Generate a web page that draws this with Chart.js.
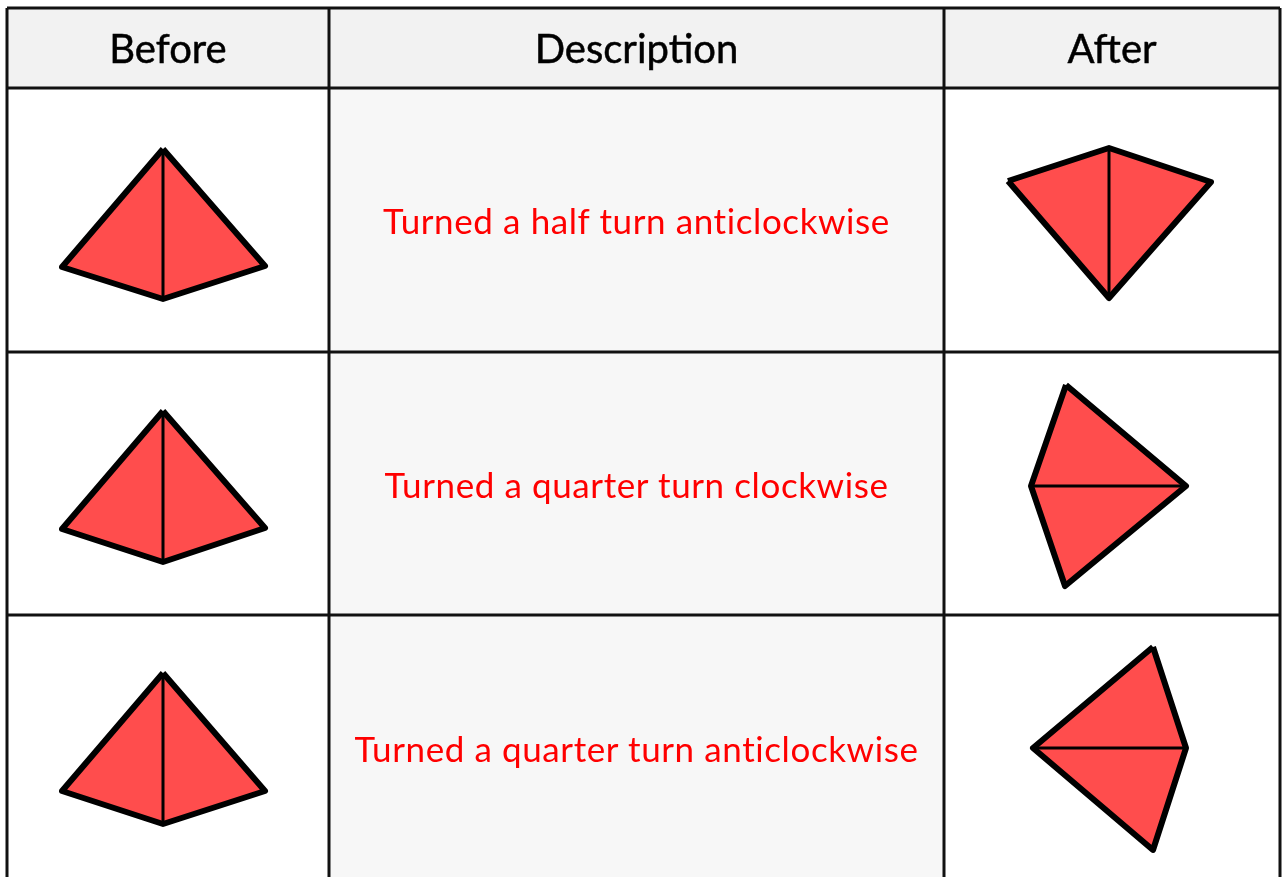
<!DOCTYPE html>
<html>
<head>
<meta charset="utf-8">
<script src="https://cdn.jsdelivr.net/npm/chart.js@4/dist/chart.umd.min.js"></script>
<style>
  html, body { margin: 0; padding: 0; background: #ffffff; overflow: hidden; }
  #wrap { position: relative; width: 1285px; height: 877px; }
  canvas { position: absolute; left: 0; top: 0; }
  .lbl { position: absolute; transform: translate(-50%, -50%); white-space: nowrap; font-family: Lato, "Open Sans", sans-serif; }
  .hdr { font-size: 40px; color: #000; font-weight: 400; -webkit-text-stroke: 0.5px #000; }
  .desc { font-size: 35px; color: #ff0000; letter-spacing: 0.6px; }
</style>
</head>
<body>
<div id="wrap"><canvas id="c" width="1285" height="877"></canvas></div>
<script>
// ---- data ----
const columns = ['Before', 'Description', 'After'];
const descriptions = [
  'Turned a half turn anticlockwise',
  'Turned a quarter turn clockwise',
  'Turned a quarter turn anticlockwise'
];
// table grid (page units)
const colEdges = [7, 329, 944, 1280];
const rowEdges = [8, 88, 352, 615, 880];
// before shapes: apex, right, bottom, left
const before1 = [[163,149],[265,266],[163,299],[62,267]];
const before2 = [[163,411],[265,528],[163,562],[62,529]];
const before3 = [[163,673],[265,791],[163,824],[62,791]];
const beforeDivider1 = [[163,149],[163,299]];
const beforeDivider2 = [[163,411],[163,562]];
const beforeDivider3 = [[163,673],[163,824]];
// after shapes
const after1 = [[1008,181],[1109,148],[1211,182],[1109,298]];
const afterDivider1 = [[1109,148],[1109,298]];
const after2 = [[1066,385],[1186,486],[1065,586],[1031,486]];
const afterDivider2 = [[1031,486],[1186,486]];
const after3 = [[1153,647],[1186,748],[1153,850],[1033,748]];
const afterDivider3 = [[1033,748],[1186,748]];

const toPts = arr => arr.map(p => ({x: p[0], y: p[1]}));
const closed = arr => toPts(arr.concat([arr[0]]));
const rect = (x0, y0, x1, y1) => closed([[x0,y0],[x1,y0],[x1,y1],[x0,y1]]);

const datasets = [];
// backgrounds
datasets.push({ data: rect(colEdges[0], rowEdges[0], colEdges[3], rowEdges[1]), showLine: true, borderWidth: 0, backgroundColor: '#f2f2f2', fill: 'shape', pointRadius: 0, order: 5 });
datasets.push({ data: rect(colEdges[1], rowEdges[1], colEdges[2], rowEdges[4]), showLine: true, borderWidth: 0, backgroundColor: '#f7f7f7', fill: 'shape', pointRadius: 0, order: 5 });
// grid lines
rowEdges.slice(0, 4).forEach(y => datasets.push({ data: toPts([[colEdges[0], y], [colEdges[3], y]]), showLine: true, borderColor: '#111', borderWidth: 3, pointRadius: 0, fill: false, order: 4 }));
colEdges.forEach(x => datasets.push({ data: toPts([[x, rowEdges[0]], [x, rowEdges[4]]]), showLine: true, borderColor: '#111', borderWidth: 3, pointRadius: 0, fill: false, order: 4 }));
// shapes
[before1, before2, before3, after1, after2, after3].forEach(s => datasets.push({
  data: closed(s), showLine: true, borderColor: '#000', borderWidth: 6, backgroundColor: '#ff4d4d',
  fill: 'shape', pointRadius: 0, borderJoinStyle: 'round', order: 2
}));
[beforeDivider1, beforeDivider2, beforeDivider3, afterDivider1, afterDivider2, afterDivider3].forEach(s => datasets.push({
  data: toPts(s), showLine: true, borderColor: '#000', borderWidth: 3, pointRadius: 0, fill: false, order: 1
}));

const chart = new Chart(document.getElementById('c'), {
  type: 'scatter',
  data: { datasets },
  options: {
    responsive: false,
    animation: false,
    layout: { padding: 0 },
    scales: {
      x: { type: 'linear', min: 0, max: 1285, display: false },
      y: { type: 'linear', min: 0, max: 877, reverse: true, display: false }
    },
    plugins: { legend: { display: false }, tooltip: { enabled: false } },
    elements: { line: { tension: 0 } }
  }
});

// text labels positioned through chart scales
const wrap = document.getElementById('wrap');
const xs = chart.scales.x, ys = chart.scales.y;
function addLabel(text, x, y, cls) {
  const d = document.createElement('div');
  d.className = 'lbl ' + cls;
  d.textContent = text;
  d.style.left = xs.getPixelForValue(x) + 'px';
  d.style.top = ys.getPixelForValue(y) + 'px';
  wrap.appendChild(d);
}
columns.forEach((c, i) => addLabel(c, (colEdges[i] + colEdges[i + 1]) / 2, (rowEdges[0] + rowEdges[1]) / 2, 'hdr'));
descriptions.forEach((t, i) => addLabel(t, (colEdges[1] + colEdges[2]) / 2, (rowEdges[i + 1] + rowEdges[i + 2]) / 2, 'desc'));
</script>
</body>
</html>
